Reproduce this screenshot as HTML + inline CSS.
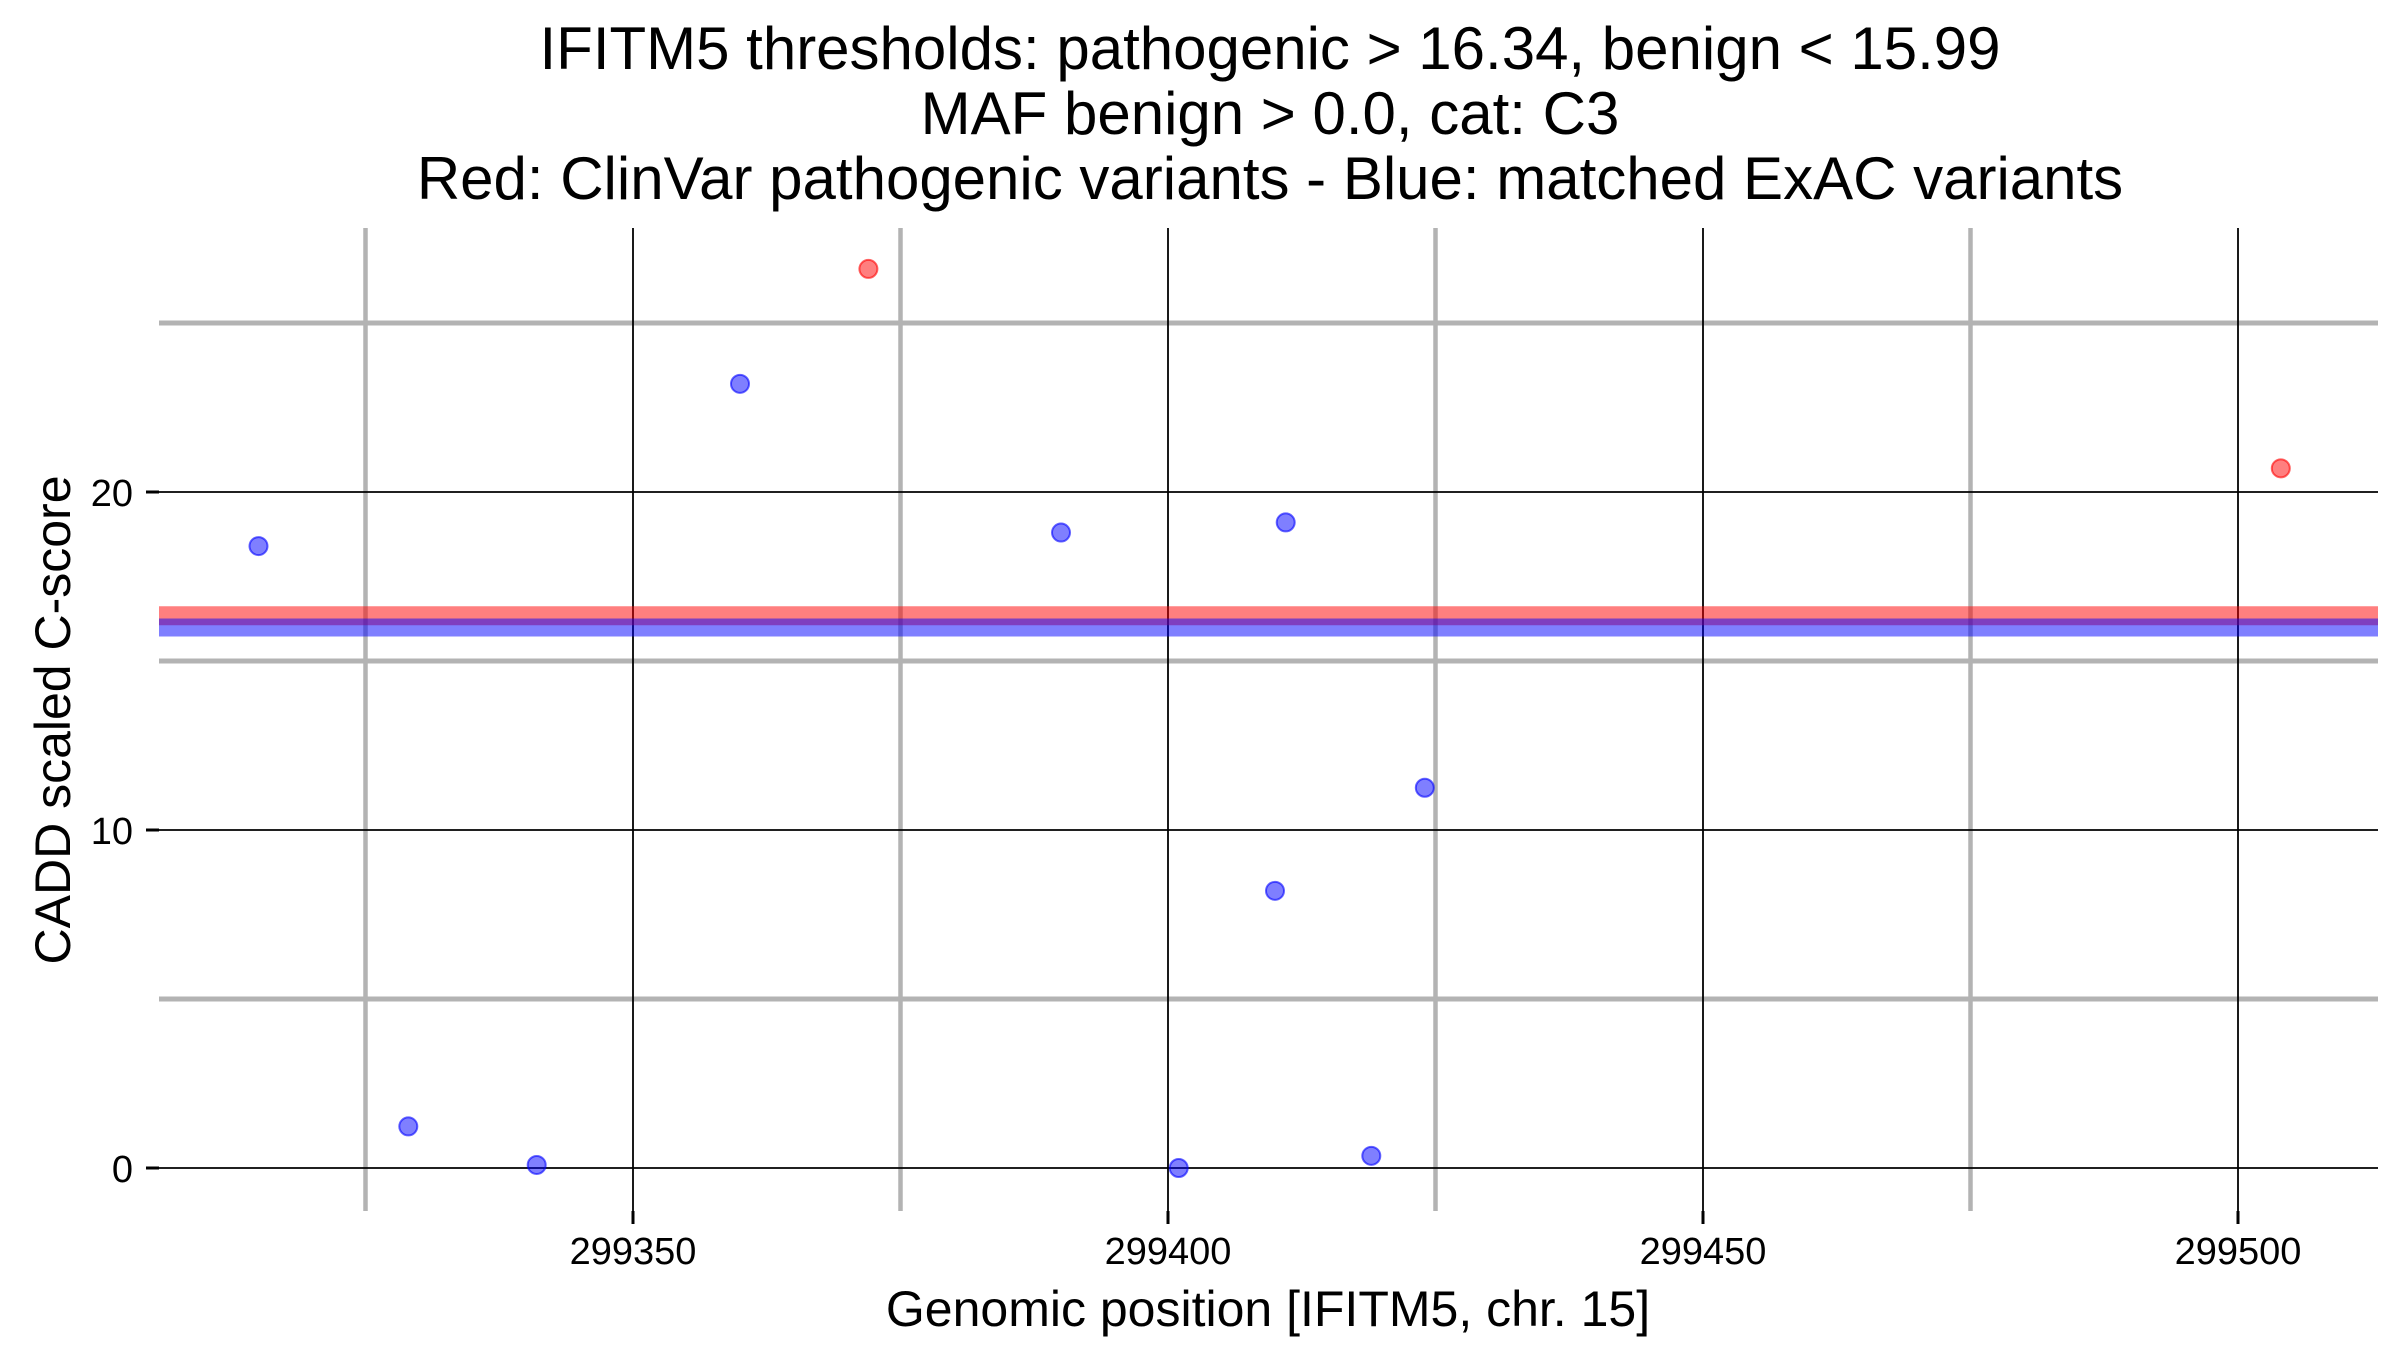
<!DOCTYPE html>
<html><head><meta charset="utf-8"><style>
html,body{margin:0;padding:0;background:#fff;}
svg{display:block;font-family:"Liberation Sans",Arial,sans-serif;}
</style></head><body>
<svg id="chart" width="2400" height="1350" viewBox="0 0 2400 1350" xmlns="http://www.w3.org/2000/svg">
<g text-anchor="middle" font-size="60" fill="#000">
<text x="1270" y="69">IFITM5 thresholds: pathogenic &gt; 16.34, benign &lt; 15.99</text>
<text x="1270" y="134">MAF benign &gt; 0.0, cat: C3</text>
<text x="1270" y="199">Red: ClinVar pathogenic variants - Blue: matched ExAC variants</text>
</g>
<g id="grid"></g>
<g id="xaxis"></g>
<g id="yaxis"></g>
<g id="thresholds"></g>
<g id="points"></g>
<text x="1268" y="1326" text-anchor="middle" font-size="50">Genomic position [IFITM5, chr. 15]</text>
<text transform="translate(70,720) rotate(-90)" text-anchor="middle" font-size="50">CADD scaled C-score</text>
</svg>
<script>
const xTicks = [299350, 299400, 299450, 299500];
const xMinor = [299325, 299375, 299425, 299475];
const yTicks = [0, 10, 20];
const yMinor = [5, 15, 25];
const blueX = [299315, 299329, 299341, 299360, 299390, 299401, 299410, 299411, 299419, 299424];
const blueY = [18.4, 1.23, 0.09, 23.2, 18.8, 0.0, 8.2, 19.1, 0.36, 11.25];
const redX = [299372, 299504];
const redY = [26.6, 20.7];
const thrPath = 16.34;
const thrBenign = 15.99;

const L = 159, R = 2378, T = 228, B = 1211;
function sx(v){ return 633 + (v - 299350) * (1605 / 150); }
function sy(v){ return 1168 - v * 33.8; }
const NS = "http://www.w3.org/2000/svg";
function mk(tag, attrs, parent){
  const e = document.createElementNS(NS, tag);
  for (const k in attrs) e.setAttribute(k, attrs[k]);
  parent.appendChild(e); return e;
}
const grid = document.getElementById('grid');
const xa = document.getElementById('xaxis');
const ya = document.getElementById('yaxis');
yMinor.forEach(v => {
  const l = mk('line', {x1:L, x2:R, y1:sy(v), y2:sy(v), stroke:'#b3b3b3', 'stroke-width':5}, grid);
  
  
});
xMinor.forEach(v => {
  const l = mk('line', {x1:sx(v), x2:sx(v), y1:T, y2:B, stroke:'#b3b3b3', 'stroke-width':4.5}, grid);
  
  
});
yTicks.forEach(v => {
  const l = mk('line', {x1:L, x2:R, y1:sy(v), y2:sy(v), stroke:'#000', 'stroke-width':1.8}, grid);
  
  
  const t = mk('line', {x1:L-13, x2:L, y1:sy(v), y2:sy(v), stroke:'#000', 'stroke-width':3}, ya);
  
  
  const tx = mk('text', {x:L-26, y:sy(v)+14, 'text-anchor':'end', 'font-size':38}, ya);
  tx.textContent = v;
  
  
});
xTicks.forEach(v => {
  const l = mk('line', {x1:sx(v), x2:sx(v), y1:T, y2:B, stroke:'#000', 'stroke-width':1.8}, grid);
  
  
  const t = mk('line', {x1:sx(v), x2:sx(v), y1:B, y2:B+13, stroke:'#000', 'stroke-width':3}, xa);
  
  
  const tx = mk('text', {x:sx(v), y:1264, 'text-anchor':'middle', 'font-size':38}, xa);
  tx.textContent = v;
  
  
});
const th = document.getElementById('thresholds');
const rl = mk('line', {x1:L, x2:R, y1:sy(thrPath), y2:sy(thrPath), stroke:'rgba(255,0,0,0.5)', 'stroke-width':19}, th);


const bl = mk('line', {x1:L, x2:R, y1:sy(thrBenign), y2:sy(thrBenign), stroke:'rgba(0,0,255,0.5)', 'stroke-width':18}, th);


const pts = document.getElementById('points');
blueX.forEach((x, i) => {
  const c = mk('circle', {cx:sx(x), cy:sy(blueY[i]), r:9, fill:'rgba(0,0,255,0.5)', stroke:'rgba(0,0,255,0.6)', 'stroke-width':2}, pts);
  
  
});
redX.forEach((x, i) => {
  const c = mk('circle', {cx:sx(x), cy:sy(redY[i]), r:9, fill:'rgba(255,0,0,0.5)', stroke:'rgba(255,0,0,0.6)', 'stroke-width':2}, pts);
  
  
});
</script>
</body></html>
